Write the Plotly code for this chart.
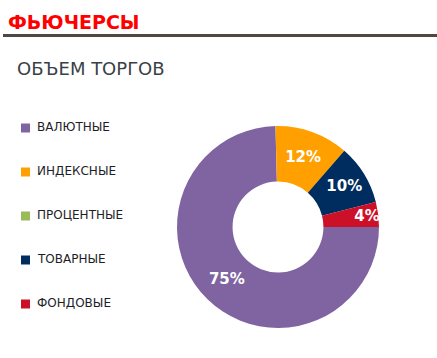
import plotly.graph_objects as go

title_text = "ФЬЮЧЕРСЫ"
subtitle_text = "ОБЪЕМ ТОРГОВ"
categories = ["ВАЛЮТНЫЕ", "ИНДЕКСНЫЕ", "ПРОЦЕНТНЫЕ", "ТОВАРНЫЕ", "ФОНДОВЫЕ"]
values = [74.6, 11.8, 0, 9.6, 4.0]
colors = ["#8064a2", "#ffa000", "#9bbb59", "#002d5f", "#cc1028"]

W, H = 437, 358
pie_order = [0, 2, 1, 3, 4]  # slices drawn clockwise from 3 o'clock

fig = go.Figure(go.Pie(
    labels=[categories[i] for i in pie_order],
    values=[values[i] for i in pie_order],
    marker=dict(colors=[colors[i] for i in pie_order], line=dict(width=0)),
    text=[f"{values[i]:.0f}%" if values[i] > 0 else "" for i in pie_order],
    textinfo="text",
    textposition="inside",
    insidetextorientation="horizontal",
    textfont=dict(family="DejaVu Sans", size=15, color="white", weight="bold"),
    hole=0.45,
    sort=False,
    direction="clockwise",
    rotation=90,
    showlegend=False,
    domain=dict(x=[177 / W, 379 / W], y=[1 - 328 / H, 1 - 126 / H]),
))

annotations = [
    dict(text=f"<b>{title_text}</b>", x=6 / W, y=1 - 22 / H, xref="paper", yref="paper",
         xanchor="left", yanchor="middle", showarrow=False,
         font=dict(family="DejaVu Sans", size=19, color="#ff0000")),
    dict(text=subtitle_text, x=15 / W, y=1 - 68 / H, xref="paper", yref="paper",
         xanchor="left", yanchor="middle", showarrow=False,
         font=dict(family="DejaVu Sans", size=18, color="#3a3f48")),
]
shapes = [
    dict(type="line", xref="paper", yref="paper", x0=3 / W, x1=1, y0=1 - 35.5 / H, y1=1 - 35.5 / H,
         line=dict(color="#52473f", width=3)),
]
legend_y0, legend_step = 128, 44
for i, (cat, col) in enumerate(zip(categories, colors)):
    yc = legend_y0 + i * legend_step
    shapes.append(dict(type="rect", xref="paper", yref="paper",
                       x0=21 / W, x1=30 / W, y0=1 - (yc + 4.5) / H, y1=1 - (yc - 4.5) / H,
                       fillcolor=col, line=dict(width=0)))
    annotations.append(dict(text=cat, x=35 / W, y=1 - (yc - 1) / H, xref="paper", yref="paper",
                            xanchor="left", yanchor="middle", showarrow=False,
                            font=dict(family="DejaVu Sans", size=12, color="#1e1e28")))

fig.update_layout(
    width=W, height=H,
    margin=dict(l=0, r=0, t=0, b=0),
    paper_bgcolor="white", plot_bgcolor="white",
    annotations=annotations, shapes=shapes,
    uniformtext=dict(minsize=15, mode="show"),
)
fig.write_html("out.html")
